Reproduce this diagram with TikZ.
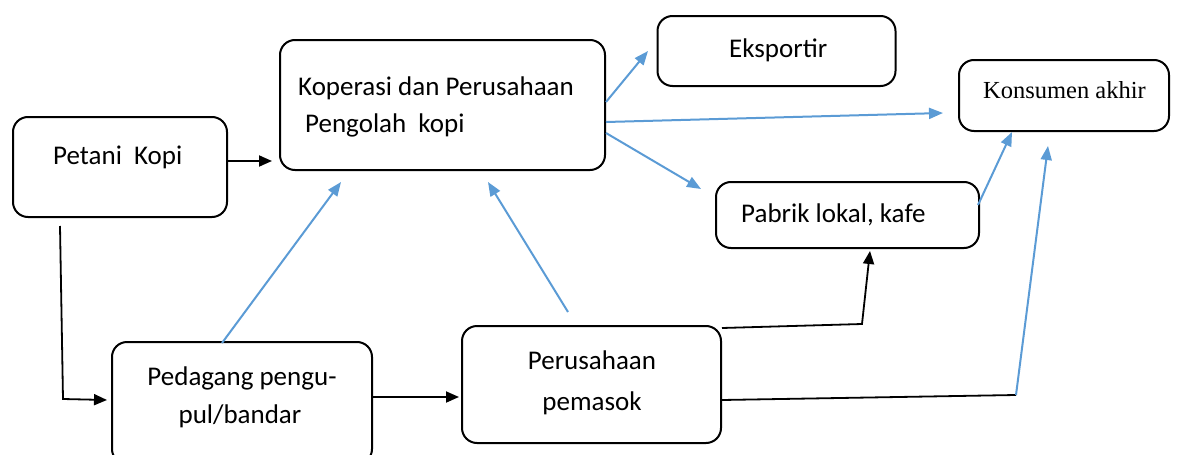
\documentclass[tikz,border=0pt]{standalone}
\usepackage{fontspec}
\setmainfont{Carlito}
\newfontfamily\timesf{Liberation Serif}
\usetikzlibrary{arrows.meta}
\definecolor{arrowblue}{HTML}{5B9BD5}
\tikzset{
  box/.style={draw=black, line width=2pt, rounded corners=15pt, inner sep=0pt, fill=white},
  lbl/.style={inner sep=0pt, font=\fontsize{27}{37}\selectfont},
  blk/.style={draw=black, line width=1.8pt, -{Triangle[length=13pt,width=11pt]}},
  blu/.style={draw=arrowblue, line width=2pt, -{Triangle[length=14pt,width=11pt]}},
  plainblk/.style={draw=black, line width=1.8pt},
}
\begin{document}
\begin{tikzpicture}[x=1pt,y=-1pt]
\useasboundingbox (0,0) rectangle (1179,455);
% boxes
\node[box, minimum width=214pt, minimum height=100pt] (pet) at (120,167) {};
\node[box, minimum width=325pt, minimum height=130pt] (kop) at (442.5,105) {};
\node[box, minimum width=238pt, minimum height=70pt] (eks) at (776.5,51) {};
\node[box, minimum width=210pt, minimum height=71pt] (kon) at (1064,95.5) {};
\node[box, minimum width=263pt, minimum height=66pt] (pab) at (847.5,215) {};
\node[box, minimum width=260pt, minimum height=122pt] (ped) at (242,403) {};
\node[box, minimum width=259pt, minimum height=117pt] (per) at (591.5,384.5) {};
% labels
\node[lbl, anchor=base west] (tpet) at (53,164) {Petani\ \ Kopi};
\node[lbl, anchor=base west] (tkop1) at (298,95) {Koperasi dan Perusahaan};
\node[lbl, anchor=base west] (tkop2) at (305,132) {Pengolah\ \ kopi};
\node[lbl, anchor=base west] (teks) at (729,57) {Eksportir};
\node[inner sep=0pt, anchor=base west, font=\timesf\fontsize{24.5}{30}\selectfont] (tkon) at (983,98) {Konsumen akhir};
\node[lbl, anchor=base west] (tpab) at (741,222) {Pabrik lokal, kafe};
\node[lbl, anchor=base] (tped1) at (242,385) {Pedagang pengu-};
\node[lbl, anchor=base] (tped2) at (240,423) {pul/bandar};
\node[lbl, anchor=base] (tper1) at (592,369) {Perusahaan};
\node[lbl, anchor=base] (tper2) at (592,410) {pemasok};
% coordinates for connector ends
\coordinate (c1) at (272,161);
\coordinate (c2s) at (60,226);
\coordinate (c2a) at (63,399);
\coordinate (c2e) at (107,400);
\coordinate (c3e) at (459,397);
\coordinate (c4s) at (222,343);
\coordinate (c4e) at (341,182);
\coordinate (c5s) at (568,312);
\coordinate (c5e) at (488,182);
\coordinate (c6a) at (862,324);
\coordinate (c6e) at (870,251);
\coordinate (c7a) at (1016,395);
\coordinate (c7e) at (1048,146);
\coordinate (c8e) at (648,51);
\coordinate (c9e) at (943,113);
\coordinate (c10e) at (701,189);
\coordinate (c11s) at (978,205);
\coordinate (c11e) at (1012,132);
% connectors
\draw[blk] (pet.east |- c1) -- (c1);
\draw[blk] (c2s) -- (c2a) -- (c2e);
\draw[blk] (ped.east |- c3e) -- (c3e);
\draw[blu] (c4s) -- (c4e);
\draw[blu] (c5s) -- (c5e);
\draw[blk] ([yshift=-3pt]per.north east) -- (c6a) -- (c6e);
\draw[plainblk] ([yshift=-75pt]per.north east) -- (c7a);
\draw[blu] (c7a) -- (c7e);
\draw[blu] ([yshift=3pt]kop.east) -- (c8e);
\draw[blu] ([yshift=-17pt]kop.east) -- (c9e);
\draw[blu] ([yshift=-28pt]kop.east) -- (c10e);
\draw[blu] (c11s) -- (c11e);
\end{tikzpicture}
\end{document}
